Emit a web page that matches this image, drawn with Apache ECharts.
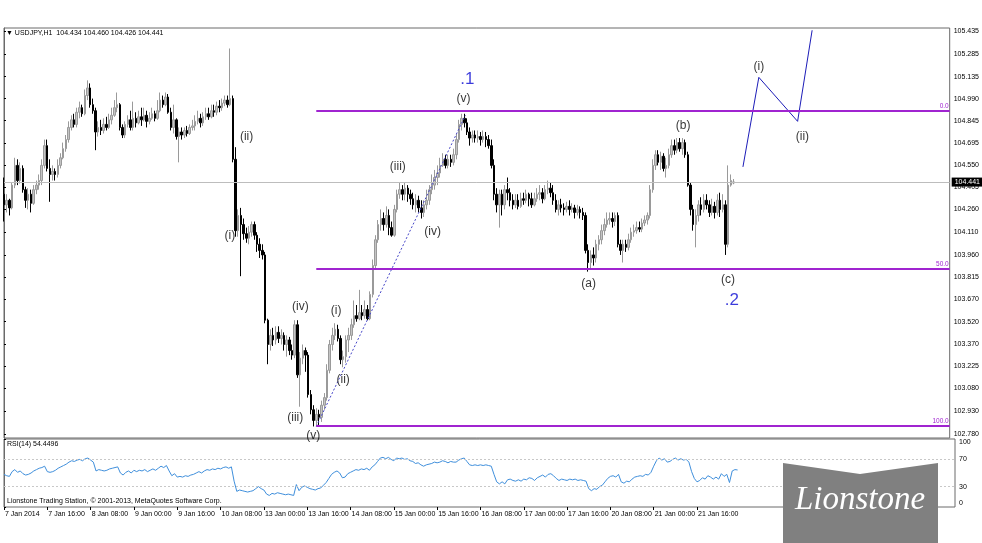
<!DOCTYPE html>
<html>
<head>
<meta charset="utf-8">
<title>USDJPY H1</title>
<script src="https://cdn.jsdelivr.net/npm/echarts@6/dist/echarts.min.js"></script>
<style>
  html, body { margin: 0; padding: 0; background: #fff; }
  #chart { width: 982px; height: 543px; }
</style>
</head>
<body>
<div id="chart"></div>
<script>
// price scale labels as MT4 prints them
const priceTicks = ['105.435', '105.285', '105.135', '104.990', '104.845', '104.695', '104.550', '104.405', '104.260',
  '104.110', '103.960', '103.815', '103.670', '103.520', '103.370', '103.225', '103.080', '102.930', '102.780']

// time labels, one every 16 hourly bars
const timeTickBars = [0, 16, 32, 48, 64, 80, 96, 112, 128, 144, 160, 176, 192, 208, 224, 240, 256]
const timeLabels = ['7 Jan 2014', '7 Jan 16:00', '8 Jan 08:00', '9 Jan 00:00', '9 Jan 16:00', '10 Jan 08:00',
  '13 Jan 00:00', '13 Jan 16:00', '14 Jan 08:00', '15 Jan 00:00', '15 Jan 16:00', '16 Jan 08:00',
  '17 Jan 00:00', '17 Jan 16:00', '20 Jan 08:00', '21 Jan 00:00', '21 Jan 16:00']

// RSI scale labels
const rsiTicks = [100, 70, 30, 0]

// USDJPY H1 bars: [open, close, low, high]
const ohlc = [
  [104.36,104.29,104.18,104.47],[104.29,104.32,104.24,104.36],[104.32,104.27,104.22,104.33],[104.27,104.42,104.26,104.44],[104.42,104.55,104.40,104.60],
  [104.55,104.45,104.42,104.59],[104.45,104.53,104.43,104.57],[104.53,104.39,104.37,104.55],[104.39,104.32,104.27,104.41],[104.32,104.36,104.26,104.40],
  [104.36,104.30,104.24,104.39],[104.30,104.39,104.29,104.42],[104.39,104.42,104.36,104.45],[104.42,104.45,104.39,104.49],[104.45,104.55,104.42,104.59],
  [104.55,104.68,104.53,104.72],[104.68,104.53,104.51,104.72],[104.53,104.49,104.31,104.59],[104.49,104.51,104.45,104.55],[104.51,104.49,104.45,104.53],
  [104.49,104.55,104.47,104.59],[104.55,104.60,104.53,104.63],[104.60,104.66,104.59,104.70],[104.66,104.72,104.64,104.75],[104.72,104.80,104.70,104.84],
  [104.80,104.85,104.78,104.88],[104.85,104.82,104.80,104.89],[104.82,104.90,104.80,104.93],[104.90,104.93,104.86,104.97],[104.93,104.89,104.87,104.95],
  [104.89,105.01,104.88,105.05],[105.01,105.06,104.98,105.11],[105.06,104.95,104.93,105.09],[104.95,104.91,104.89,104.99],[104.91,104.77,104.65,104.93],
  [104.77,104.80,104.74,104.84],[104.80,104.78,104.75,104.85],[104.78,104.82,104.76,104.86],[104.82,104.80,104.78,104.87],[104.80,104.85,104.79,104.89],
  [104.85,104.88,104.82,104.93],[104.88,104.93,104.87,104.98],[104.93,104.95,104.90,105.03],[104.95,104.80,104.78,104.96],[104.80,104.75,104.73,104.82],
  [104.75,104.82,104.73,104.84],[104.82,104.85,104.80,104.88],[104.85,104.80,104.78,104.91],[104.80,104.86,104.78,104.97],[104.86,104.83,104.80,104.90],
  [104.83,104.87,104.82,104.91],[104.87,104.85,104.81,104.93],[104.85,104.88,104.84,104.93],[104.88,104.84,104.80,104.91],[104.84,104.86,104.82,104.90],
  [104.86,104.89,104.85,104.93],[104.89,104.86,104.84,104.91],[104.86,104.91,104.85,104.98],[104.91,104.98,104.90,105.03],[104.98,104.95,104.93,105.01],
  [104.95,105.00,104.94,105.03],[105.00,104.90,104.89,105.02],[104.90,104.80,104.78,104.93],[104.80,104.85,104.76,104.95],[104.85,104.74,104.72,104.86],
  [104.74,104.77,104.57,104.80],[104.77,104.75,104.72,104.80],[104.75,104.78,104.73,104.80],[104.78,104.76,104.74,104.81],[104.76,104.80,104.75,104.82],
  [104.80,104.81,104.78,104.85],[104.81,104.84,104.78,104.88],[104.84,104.86,104.82,104.91],[104.86,104.83,104.80,104.89],[104.83,104.87,104.81,104.90],
  [104.87,104.89,104.85,104.93],[104.89,104.87,104.85,104.93],[104.87,104.91,104.86,104.95],[104.91,104.90,104.87,104.95],[104.90,104.94,104.88,104.97],
  [104.94,104.93,104.90,104.98],[104.93,104.96,104.91,104.99],[104.96,104.98,104.94,105.01],[104.98,104.95,104.93,105.01],[104.95,104.99,104.94,105.32],
  [104.99,104.59,104.57,105.01],[104.59,104.12,104.08,104.67],[104.12,104.22,104.08,104.26],[104.22,104.16,103.82,104.27],[104.16,104.10,104.06,104.20],
  [104.10,104.07,104.04,104.14],[104.07,104.11,104.03,104.15],[104.11,104.16,104.08,104.18],[104.16,104.09,104.06,104.18],[104.09,104.03,103.98,104.11],
  [104.03,103.99,103.94,104.07],[103.99,103.96,103.93,104.03],[103.96,103.53,103.51,103.98],[103.53,103.37,103.24,103.54],[103.37,103.43,103.33,103.47],
  [103.43,103.40,103.36,103.48],[103.40,103.45,103.37,103.49],[103.45,103.41,103.38,103.49],[103.41,103.43,103.37,103.47],[103.43,103.37,103.33,103.45],
  [103.37,103.40,103.29,103.43],[103.40,103.33,103.30,103.42],[103.33,103.30,103.27,103.37],[103.30,103.50,103.28,103.53],[103.50,103.17,103.15,103.53],
  [103.17,103.28,102.96,103.32],[103.28,103.33,103.24,103.37],[103.33,103.30,103.19,103.35],[103.30,103.04,103.02,103.32],[103.04,102.94,102.91,103.07],
  [102.94,102.87,102.83,102.97],[102.87,102.91,102.83,102.95],[102.91,102.89,102.84,102.94],[102.89,102.97,102.86,103.00],[102.97,103.02,102.94,103.05],
  [103.02,103.20,103.00,103.24],[103.20,103.37,103.18,103.40],[103.37,103.43,103.33,103.48],[103.43,103.47,103.40,103.51],[103.47,103.41,103.39,103.50],
  [103.41,103.27,103.24,103.43],[103.27,103.29,103.22,103.33],[103.29,103.40,103.25,103.43],[103.40,103.43,103.32,103.48],[103.43,103.50,103.40,103.54],
  [103.50,103.56,103.48,103.66],[103.56,103.54,103.52,103.63],[103.54,103.58,103.53,103.73],[103.58,103.56,103.53,103.63],[103.56,103.60,103.54,103.66],
  [103.60,103.54,103.53,103.63],[103.54,103.70,103.53,103.72],[103.70,103.89,103.68,103.93],[103.89,104.06,103.87,104.09],[104.06,104.16,104.04,104.19],
  [104.16,104.20,104.12,104.26],[104.20,104.16,104.12,104.24],[104.16,104.22,104.14,104.28],[104.22,104.14,104.09,104.26],[104.14,104.09,104.08,104.18],
  [104.09,104.26,104.08,104.29],[104.26,104.36,104.24,104.39],[104.36,104.39,104.33,104.44],[104.39,104.36,104.32,104.42],[104.36,104.40,104.32,104.44],
  [104.40,104.36,104.31,104.42],[104.36,104.33,104.29,104.39],[104.33,104.29,104.26,104.37],[104.29,104.32,104.24,104.36],[104.32,104.27,104.24,104.35],
  [104.27,104.24,104.20,104.32],[104.24,104.29,104.21,104.32],[104.29,104.32,104.26,104.39],[104.32,104.39,104.29,104.42],[104.39,104.42,104.36,104.49],
  [104.42,104.47,104.39,104.52],[104.47,104.50,104.42,104.55],[104.50,104.55,104.47,104.60],[104.55,104.59,104.54,104.63],[104.59,104.55,104.53,104.62],
  [104.55,104.59,104.53,104.62],[104.59,104.57,104.54,104.62],[104.57,104.62,104.55,104.66],[104.62,104.72,104.59,104.76],[104.72,104.82,104.70,104.85],
  [104.82,104.86,104.78,104.89],[104.86,104.83,104.80,104.89],[104.83,104.77,104.75,104.86],[104.77,104.73,104.68,104.80],[104.73,104.75,104.70,104.78],
  [104.75,104.73,104.70,104.78],[104.73,104.74,104.70,104.78],[104.74,104.72,104.68,104.77],[104.72,104.74,104.70,104.78],[104.74,104.72,104.67,104.77],
  [104.72,104.68,104.66,104.75],[104.68,104.55,104.53,104.72],[104.55,104.36,104.32,104.59],[104.36,104.29,104.24,104.40],[104.29,104.36,104.14,104.39],
  [104.36,104.29,104.22,104.39],[104.29,104.39,104.26,104.42],[104.39,104.37,104.32,104.47],[104.37,104.32,104.28,104.40],[104.32,104.29,104.26,104.36],
  [104.29,104.32,104.27,104.36],[104.32,104.28,104.26,104.36],[104.28,104.33,104.27,104.37],[104.33,104.32,104.29,104.37],[104.32,104.36,104.30,104.39],
  [104.36,104.33,104.28,104.37],[104.33,104.29,104.27,104.37],[104.29,104.33,104.28,104.37],[104.33,104.36,104.31,104.40],[104.36,104.37,104.32,104.42],
  [104.37,104.33,104.30,104.40],[104.33,104.39,104.32,104.42],[104.39,104.40,104.36,104.45],[104.40,104.37,104.34,104.44],[104.37,104.32,104.29,104.42],
  [104.32,104.26,104.24,104.36],[104.26,104.29,104.22,104.32],[104.29,104.27,104.24,104.33],[104.27,104.26,104.22,104.30],[104.26,104.28,104.24,104.31],
  [104.28,104.26,104.22,104.32],[104.26,104.27,104.24,104.30],[104.27,104.24,104.20,104.29],[104.24,104.26,104.22,104.29],[104.26,104.24,104.20,104.28],
  [104.24,104.22,104.19,104.27],[104.22,103.99,103.97,104.24],[103.99,103.91,103.85,104.03],[103.91,103.96,103.87,103.99],[103.96,103.94,103.89,104.01],
  [103.94,104.03,103.91,104.06],[104.03,104.06,103.99,104.09],[104.06,104.12,104.03,104.16],[104.12,104.16,104.09,104.20],[104.16,104.19,104.14,104.24],
  [104.19,104.20,104.16,104.24],[104.20,104.18,104.14,104.24],[104.18,104.22,104.15,104.24],[104.22,104.03,104.01,104.24],[104.03,103.99,103.96,104.06],
  [103.99,104.03,103.91,104.06],[104.03,104.01,103.98,104.06],[104.01,104.06,103.99,104.10],[104.06,104.11,104.04,104.14],[104.11,104.12,104.08,104.16],
  [104.12,104.14,104.10,104.18],[104.14,104.13,104.11,104.18],[104.13,104.17,104.11,104.20],[104.17,104.19,104.15,104.22],[104.19,104.22,104.16,104.24],
  [104.22,104.39,104.20,104.42],[104.39,104.55,104.37,104.59],[104.55,104.62,104.52,104.65],[104.62,104.57,104.55,104.65],[104.57,104.61,104.52,104.64],
  [104.61,104.53,104.51,104.63],[104.53,104.55,104.47,104.60],[104.55,104.62,104.53,104.66],[104.62,104.68,104.60,104.72],[104.68,104.65,104.62,104.72],
  [104.65,104.70,104.63,104.73],[104.70,104.66,104.64,104.73],[104.66,104.70,104.62,104.73],[104.70,104.62,104.60,104.72],[104.62,104.42,104.41,104.64],
  [104.42,104.26,104.22,104.44],[104.26,104.16,104.12,104.29],[104.16,104.22,104.01,104.26],[104.22,104.29,104.18,104.32],[104.29,104.26,104.22,104.34],
  [104.26,104.32,104.24,104.36],[104.32,104.29,104.26,104.36],[104.29,104.24,104.21,104.32],[104.24,104.28,104.22,104.33],[104.28,104.24,104.20,104.31],
  [104.24,104.32,104.22,104.36],[104.32,104.26,104.21,104.37],[104.26,104.29,104.24,104.36],[104.29,104.03,103.96,104.32],[104.03,104.42,104.01,104.55],
  [104.42,104.45,104.41,104.49],[104.434,104.441,104.426,104.460]
]

// RSI(14), one value per bar
const rsi = [
  48,46,45,52,55,51,53,49,47,48, 50,53,55,57,58,60,52,51,52,54, 57,59,61,63,66,68,67,69,70,68,
  71,72,69,66,53,55,54,53,54,56, 57,58,59,50,47,51,53,50,54,52, 54,53,55,52,54,56,54,57,60,58,
  61,53,46,49,44,45,44,46,45,47, 48,50,52,50,53,55,54,56,55,57, 56,58,59,57,59,38,23,25,24,23,
  22,23,24,27,30,27,25,19,17,20, 19,21,20,19,18,19,18,17,33,24, 29,31,29,27,26,25,27,28,32,36,
  42,48,51,53,50,43,44,49,51,53, 55,54,56,55,57,54,59,62,67,72, 73,71,73,70,68,72,71,72,70,71,
  68,67,64,65,62,60,62,63,64,66, 65,66,68,67,65,67,66,66,69,71, 72,67,62,61,62,61,62,61,62,61,
  60,48,37,34,37,34,40,41,39,38, 40,38,41,40,43,42,39,43,45,47, 44,48,49,46,42,39,41,40,39,41,
  40,41,39,40,39,38,27,24,27,26, 30,32,37,42,45,46,44,48,37,35, 38,37,41,44,45,46,45,48,47,51,
  60,68,72,69,71,66,67,70,72,69, 71,69,70,66,52,42,37,39,43,41, 46,44,41,44,41,49,45,48,36,53,
  55,54.4496
]

const lastPrice = 104.441

// Fibonacci retracement drawn from the wave 1 swing
const fibStartBar = 116
const fibLevels = [104.908, 103.871, 102.833]
const fibNames = ['0.0', '50.0', '100.0']

// wave counts: bar position, price, text
const waveBars = [90.1, 83.9, 110.1, 108.2, 114.9, 123.4, 126, 146.3, 159.2, 170.7, 172.1, 217.2, 252.3, 268.9, 270.4, 280.4, 296.6]
const wavePrices = [104.74, 104.09, 103.62, 102.89, 102.77, 103.59, 103.14, 104.54, 104.11, 104.99, 105.12, 103.77, 104.81, 103.80, 103.66, 105.20, 104.74]
const waveTexts = ['(ii)', '(i)', '(iv)', '(iii)', '(v)', '(i)', '(ii)', '(iii)', '(iv)', '(v)', '.1', '(a)', '(b)', '(c)', '.2', '(i)', '(ii)']

// projected path after wave 2 and the wave 1 trend line
const projBars = [274.5, 280.4, 294.8, 300.2]
const projPrices = [104.54, 105.13, 104.84, 105.44]
const trendBars = [116, 171.4]
const trendPrices = [102.83, 104.88]

const FONT = 'Liberation Sans'
const lastBar = 351.3

const chart = echarts.init(document.getElementById('chart'))

const fibLines = fibLevels.map((lvl, k) => [
  {
    coord: [fibStartBar, lvl],
    lineStyle: { color: '#a024d0', width: 2, type: 'solid' },
    label: {
      show: true, position: 'insideEndTop', formatter: fibNames[k],
      color: '#a024d0', fontSize: 6.5, fontFamily: FONT, distance: 1
    }
  },
  { coord: [lastBar, lvl] }
])

const option = {
  animation: false,
  backgroundColor: '#fff',
  grid: [
    { left: 4, top: 28, width: 951, height: 410, show: true, borderColor: '#6a6a6a', borderWidth: 1 },
    { left: 4, top: 439, width: 951, height: 68, show: true, borderColor: '#6a6a6a', borderWidth: 1 }
  ],
  xAxis: [
    { type: 'value', gridIndex: 0, min: 0, max: lastBar, show: false },
    {
      type: 'value', gridIndex: 1, min: 0, max: lastBar,
      splitLine: { show: false },
      axisLine: { show: false },
      axisTick: { show: true, customValues: timeTickBars, length: 3, lineStyle: { color: '#000' } },
      axisLabel: {
        customValues: timeTickBars,
        formatter: v => timeLabels[timeTickBars.indexOf(v)],
        align: 'left', margin: 4, fontSize: 7, fontFamily: FONT, color: '#000',
        padding: [0, 0, 0, 1]
      }
    }
  ],
  yAxis: [
    {
      type: 'value', gridIndex: 0, position: 'right', min: 102.754, max: 105.455,
      splitLine: { show: false },
      axisLine: { show: true, lineStyle: { color: '#6a6a6a' } },
      axisTick: { show: true, customValues: priceTicks.map(Number), length: 2, lineStyle: { color: '#000' } },
      axisLabel: {
        customValues: priceTicks.map(Number),
        formatter: v => v.toFixed(3),
        fontSize: 7, fontFamily: FONT, color: '#000', margin: 4
      }
    },
    {
      type: 'value', gridIndex: 1, position: 'right', min: 0, max: 100,
      splitLine: { show: false },
      axisLine: { show: true, lineStyle: { color: '#6a6a6a' } },
      axisTick: { show: true, customValues: rsiTicks, length: 2, lineStyle: { color: '#000' } },
      axisLabel: {
        customValues: rsiTicks,
        verticalAlignMaxLabel: 'bottom', verticalAlignMinLabel: 'top',
        fontSize: 7, fontFamily: FONT, color: '#000', margin: 4
      }
    }
  ],
  series: [
    {
      type: 'candlestick',
      xAxisIndex: 0, yAxisIndex: 0,
      barWidth: 2,
      encode: { x: 0, y: [1, 2, 3, 4] },
      data: ohlc.map((b, i) => [i, b[0], b[1], b[2], b[3]]),
      itemStyle: {
        color: '#c4c4c4', borderColor: '#9a9a9a',
        color0: '#000', borderColor0: '#000', borderWidth: 1
      },
      markLine: {
        silent: true,
        symbol: ['none', 'none'],
        animation: false,
        data: [
          {
            yAxis: lastPrice,
            lineStyle: { color: '#bdbdbd', width: 1, type: 'solid' },
            label: {
              show: true, position: 'end', formatter: lastPrice.toFixed(3),
              backgroundColor: '#000', color: '#fff', fontSize: 7, fontFamily: FONT,
              padding: [1, 3], distance: 2
            }
          },
          ...fibLines
        ]
      }
    },
    {
      type: 'line',
      xAxisIndex: 0, yAxisIndex: 0,
      data: trendBars.map((b, i) => [b, trendPrices[i]]),
      symbol: 'none',
      lineStyle: { color: '#4646c8', width: 1, type: [2, 2] },
      z: 3
    },
    {
      type: 'line',
      xAxisIndex: 0, yAxisIndex: 0,
      data: projBars.map((b, i) => [b, projPrices[i]]),
      symbol: 'none',
      clip: true,
      lineStyle: { color: '#1c1cb8', width: 1 },
      z: 3
    },
    {
      type: 'scatter',
      xAxisIndex: 0, yAxisIndex: 0,
      symbolSize: 0,
      silent: true,
      z: 4,
      data: waveBars.map((b, i) => {
        const big = waveTexts[i].startsWith('.')
        return {
          value: [b, wavePrices[i]],
          name: waveTexts[i],
          label: big ? { color: '#0a0ad2', fontSize: 17 } : {}
        }
      }),
      label: {
        show: true, position: 'inside', formatter: '{b}',
        color: '#000', fontSize: 12, fontFamily: FONT
      }
    },
    {
      type: 'line',
      xAxisIndex: 1, yAxisIndex: 1,
      data: rsi.map((v, i) => [i, v]),
      symbol: 'none',
      lineStyle: { color: '#3f8fdc', width: 1 },
      markLine: {
        silent: true,
        symbol: ['none', 'none'],
        label: { show: false },
        lineStyle: { color: '#c8c8c8', type: [2, 2], width: 1 },
        data: [{ yAxis: 70 }, { yAxis: 30 }]
      }
    }
  ],
  graphic: [
    {
      type: 'text', left: 6, top: 30,
      style: { text: '\u25BC USDJPY,H1  104.434 104.460 104.426 104.441', fontSize: 7, fontFamily: FONT, fill: '#000' }
    },
    {
      type: 'text', left: 7, top: 441,
      style: { text: 'RSI(14) 54.4496', fontSize: 7, fontFamily: FONT, fill: '#000' }
    },
    {
      type: 'text', left: 7, top: 498,
      style: { text: 'Lionstone Trading Station, \u00A9 2001-2013, MetaQuotes Software Corp.', fontSize: 7, fontFamily: FONT, fill: '#000' }
    },
    // watermark badge
    {
      type: 'polygon', z: 100,
      shape: { points: [[783, 463], [860, 474], [938, 463], [938, 543], [783, 543]] },
      style: { fill: '#808080' }
    },
    {
      type: 'text', z: 101, left: 795, top: 484,
      style: { text: 'Lionstone', fontSize: 33, fontStyle: 'italic', fontFamily: 'Liberation Serif', fill: '#fff' }
    }
  ]
}

chart.setOption(option)
window.addEventListener('resize', function () {
  chart.resize()
})
</script>
</body>
</html>
